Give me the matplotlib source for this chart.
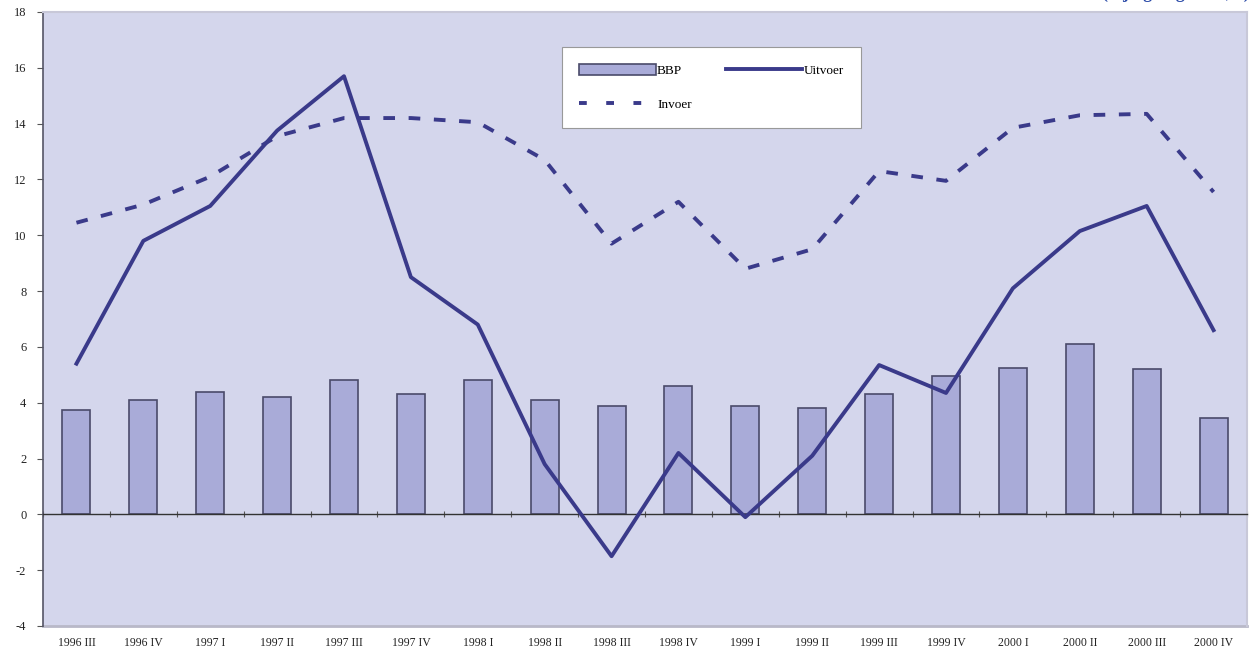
import matplotlib
matplotlib.use("Agg")
import matplotlib.pyplot as plt
import numpy as np
from matplotlib.patches import Patch
from matplotlib.lines import Line2D

quarters = ["1996 III", "1996 IV", "1997 I", "1997 II", "1997 III", "1997 IV",
            "1998 I", "1998 II", "1998 III", "1998 IV", "1999 I", "1999 II",
            "1999 III", "1999 IV", "2000 I", "2000 II", "2000 III", "2000 IV"]
bbp = [3.75, 4.1, 4.4, 4.2, 4.8, 4.3, 4.8, 4.1, 3.9, 4.6, 3.9, 3.8,
       4.3, 4.95, 5.25, 6.1, 5.2, 3.45]
uitvoer = [5.4, 9.8, 11.05, 13.75, 15.7, 8.5, 6.8, 1.8, -1.5, 2.2, -0.1, 2.1,
           5.35, 4.35, 8.1, 10.15, 11.05, 6.6]
invoer = [10.45, 11.1, 12.1, 13.55, 14.2, 14.2, 14.05, 12.7, 9.7, 11.2, 8.8, 9.5,
          12.3, 11.95, 13.85, 14.3, 14.35, 11.55]
yticks = list(range(-4, 19, 2))

bg = "#d4d6ec"
bar_fill = "#a9abd8"
bar_edge = "#4a4a6a"
line_col = "#3a3a8a"
serif = ["Liberation Serif", "DejaVu Serif"]

plt.rcParams["font.family"] = serif

fig = plt.figure(figsize=(12.51, 6.62), dpi=100)
ax = fig.add_axes([43 / 1251, 1 - 626 / 662, (1247 - 43) / 1251, (626 - 12) / 662])
ax.set_facecolor(bg)

x = np.arange(len(quarters))
ax.bar(x, bbp, width=0.42, color=bar_fill, edgecolor=bar_edge, linewidth=1.2, zorder=2)
ax.plot(x, uitvoer, color=line_col, linewidth=2.8, zorder=3)
ax.plot(x, invoer, color=line_col, linewidth=2.8, linestyle=(0, (3, 3.5)), zorder=3)

ax.set_xlim(-0.5, len(quarters) - 0.5)
ax.set_ylim(-4, 18)
ax.set_yticks(yticks)
ax.set_yticklabels([str(v) for v in yticks], fontsize=9, color="#222222")
ax.tick_params(axis="y", length=4, width=0.8, color="#555555", pad=8)

# category axis crosses at zero, with tick marks between categories
ax.spines["bottom"].set_position(("data", 0))
ax.spines["bottom"].set_color("#333333")
ax.spines["bottom"].set_linewidth(1.0)
ax.set_xticks(np.arange(-0.5, len(quarters), 1.0))
ax.set_xticklabels([])
ax.tick_params(axis="x", direction="inout", length=5, width=0.8, color="#555555")

# labels below the plot area
sec = ax.secondary_xaxis("bottom")
sec.set_xticks(x)
sec.set_xticklabels(quarters, fontsize=8.5, color="#222222")
sec.tick_params(length=0, pad=8)
sec.spines["bottom"].set_color("#b8b8c8")
sec.spines["bottom"].set_linewidth(2)

ax.spines["left"].set_color("#555566")
ax.spines["left"].set_linewidth(1.2)
for side in ["top", "right"]:
    ax.spines[side].set_color("#c8c8d8")
    ax.spines[side].set_linewidth(1.5)

handles = [Patch(facecolor=bar_fill, edgecolor=bar_edge, linewidth=1.2),
           Line2D([], [], color=line_col, linewidth=2.8, linestyle=(0, (2, 5))),
           Line2D([], [], color=line_col, linewidth=2.8)]
leg = ax.legend(handles, ["BBP", "Invoer", "Uitvoer"], ncol=2, fontsize=9.5,
                loc="upper left", bbox_to_anchor=((562 - 43) / 1204, 1 - (47 - 12) / 614),
                borderaxespad=0, frameon=True, fancybox=False, framealpha=1,
                edgecolor="#999999", handlelength=5.8, handleheight=0.9,
                handletextpad=0.1, columnspacing=2.6, borderpad=1.3, labelspacing=1.6)
leg.get_frame().set_linewidth(0.8)

fig.text(0.999, 1.003, "(bijlage figuur 1, 2)", ha="right", va="baseline",
         fontsize=13, fontweight="bold", color="#2a4aa8", family=serif)

fig.savefig("out.png", dpi=100, facecolor="white")
